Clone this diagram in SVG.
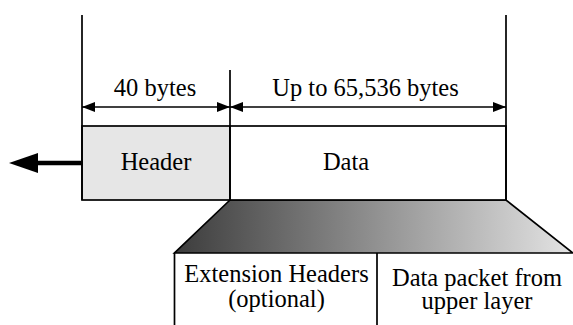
<svg xmlns="http://www.w3.org/2000/svg" width="573" height="325" viewBox="0 0 573 325">
  <style>
    .ln { stroke: #000; stroke-width: 1.7; }
    .open { fill: none; }
    .t { font-family: 'Liberation Serif', 'Times New Roman', Times, serif; font-size: 24.5px; fill: #000; text-anchor: middle; }
  </style>
  <defs>
    <marker id="ah" viewBox="0 0 13 10" refX="13" refY="5" markerWidth="13" markerHeight="10" markerUnits="userSpaceOnUse" orient="auto-start-reverse">
      <path d="M0,0 L13,5 L0,10 Z" fill="#000"/>
    </marker>
    <linearGradient id="fan" x1="0" y1="0" x2="1" y2="0">
      <stop offset="0" stop-color="#3c3c3c"/>
      <stop offset="1" stop-color="#e4e4e4"/>
    </linearGradient>
  </defs>

  <!-- expansion of the data field -->
  <g id="fan-out">
    <path d="M230,200 L506,200 L573,253 L174.5,253 Z" fill="url(#fan)" class="ln"/>
  </g>

  <g id="header">
    <rect x="82" y="126" width="148" height="74" fill="#e6e6e6" class="ln"/>
    <text class="t" x="156" y="170">Header</text>
  </g>

  <g id="data">
    <rect x="230" y="126" width="276" height="74" fill="#fff" class="ln"/>
    <text class="t" x="346" y="170">Data</text>
  </g>

  <g id="extension-headers">
    <path d="M174.5,253 L174.5,325 M377,253 L377,325" class="ln open"/>
    <text class="t" x="276.5" y="282">Extension Headers</text>
    <text class="t" x="276.5" y="307">(optional)</text>
  </g>

  <g id="upper-layer-data">
    <text class="t" x="477" y="286">Data packet from</text>
    <text class="t" x="477" y="309">upper layer</text>
  </g>

  <g id="connectors">
    <!-- boundary lines -->
    <path d="M82,15 L82,200 M230,70 L230,200 M506,15 L506,200" class="ln open"/>
    <!-- size dimensions -->
    <path d="M82,107 L230,107" class="ln open" marker-start="url(#ah)" marker-end="url(#ah)"/>
    <path d="M230,107 L506,107" class="ln open" marker-start="url(#ah)" marker-end="url(#ah)"/>
    <!-- outgoing direction -->
    <path d="M83,163 L36,163" stroke="#000" stroke-width="4.5"/>
    <path d="M9,163 L38,153 L38,173 Z" fill="#000"/>
  </g>

  <g id="dimension-labels">
    <text class="t" x="155" y="96">40 bytes</text>
    <text class="t" x="365.5" y="96">Up to 65,536 bytes</text>
  </g>
</svg>
